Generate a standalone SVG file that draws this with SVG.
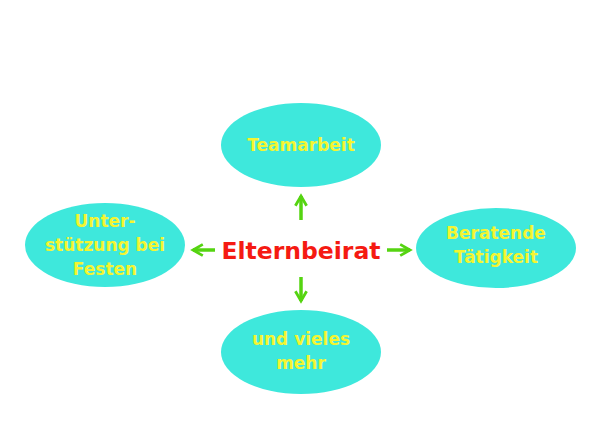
<svg xmlns="http://www.w3.org/2000/svg" width="600" height="424" viewBox="0 0 600 424">
<style>
.n{fill:#3ee8dc}
.t{font-family:"DejaVu Sans",sans-serif;font-weight:bold;font-size:17px;fill:#f4f531;text-anchor:middle}
.c{stroke:#55d411;stroke-width:3.5;fill:none;marker-end:url(#a)}
</style>
<defs><marker id="a" viewBox="0 0 10 10" refX="8" refY="5" markerWidth="4" markerHeight="4" orient="auto" markerUnits="strokeWidth"><path d="M1,1 L8,5 L1,9" fill="none" stroke="#55d411" stroke-width="2"/></marker></defs>
<rect width="600" height="424" fill="#fff"/>
<g id="teamarbeit"><ellipse class="n" cx="301" cy="145" rx="80" ry="42"/><text class="t" x="301" y="151">Teamarbeit</text></g>
<g id="unterstuetzung"><ellipse class="n" cx="105" cy="245" rx="80" ry="42"/><text class="t" x="105" y="227">Unter-</text><text class="t" x="105" y="251">stützung bei</text><text class="t" x="105" y="275">Festen</text></g>
<g id="beratend"><ellipse class="n" cx="496" cy="248" rx="80" ry="40"/><text class="t" x="496" y="239">Beratende</text><text class="t" x="496" y="263">Tätigkeit</text></g>
<g id="vieles"><ellipse class="n" cx="301" cy="352" rx="80" ry="42"/><text class="t" x="301" y="345">und vieles</text><text class="t" x="301" y="369">mehr</text></g>
<g id="center"><text x="301" y="259" font-family="DejaVu Sans,sans-serif" font-weight="bold" font-size="23.5" fill="#f51a12" text-anchor="middle">Elternbeirat</text></g>
<g id="connectors">
<line class="c" x1="301" y1="220" x2="301" y2="196"/>
<line class="c" x1="215" y1="250" x2="193" y2="250"/>
<line class="c" x1="387" y1="250" x2="410" y2="250"/>
<line class="c" x1="301" y1="277" x2="301" y2="301"/>
</g>
</svg>
